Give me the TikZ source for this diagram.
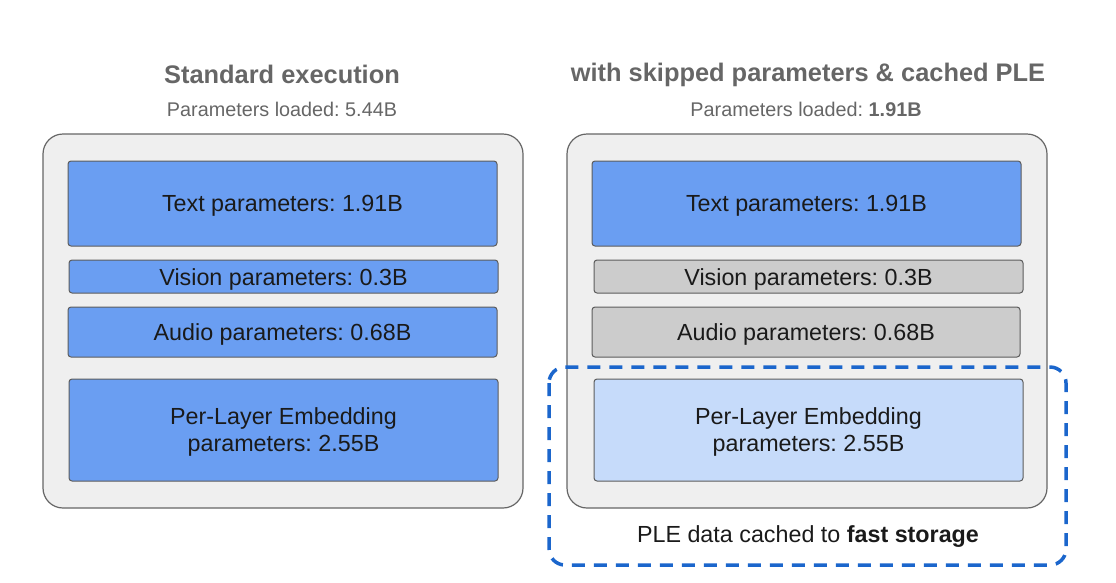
\documentclass[tikz,border=0pt]{standalone}
\usepackage{fontspec}
\setmainfont{Liberation Sans}
\frenchspacing
\definecolor{outerfill}{HTML}{EFEFEF}
\definecolor{outerline}{HTML}{666666}
\definecolor{bluefill}{HTML}{6A9EF2}
\definecolor{lightblue}{HTML}{C6DBFA}
\definecolor{grayfill}{HTML}{CCCCCC}
\definecolor{dashblue}{HTML}{1B66CC}
\definecolor{titlegray}{HTML}{666666}
\definecolor{textblack}{HTML}{1A1A1A}
\begin{document}
\begin{tikzpicture}[x=1pt,y=-1pt,
  outer/.style={draw=outerline,fill=outerfill,line width=1.2pt,rounded corners=20pt},
  blk/.style={draw=outerline!90!black,line width=1pt,rounded corners=3pt},
  lbl/.style={text=textblack,font=\fontsize{23.3}{26.5}\selectfont\frenchspacing,align=center},
  ttl/.style={text=titlegray,font=\fontsize{25.4}{30}\selectfont\bfseries},
  sub/.style={text=titlegray,font=\fontsize{19.8}{23}\selectfont\frenchspacing}]
\useasboundingbox (0,0) rectangle (1116,582);
% left column
\draw[outer] (43,134) rectangle (523,508);
\draw[blk,fill=bluefill] (68,161) rectangle (497,246);
\draw[blk,fill=bluefill] (69,260) rectangle (498,293);
\draw[blk,fill=bluefill] (68,307) rectangle (497,357);
\draw[blk,fill=bluefill] (69,379) rectangle (498,481);
\node[ttl] (t1) at (282,74) {Standard execution};
\node[sub] (s1) at (282,109) {Parameters loaded: 5.44B};
\node[lbl] (l1) at (282.5,206) {Text parameters: 1.91B};
\node[lbl] (l2) at (283.5,279) {Vision parameters: 0.3B};
\node[lbl] (l3) at (282.5,334) {Audio parameters: 0.68B};
\node[lbl] (l4) at (283.5,432) {Per-Layer Embedding\\parameters: 2.55B};
% right column
\draw[outer] (567,134) rectangle (1047,508);
\draw[blk,fill=bluefill] (592,161) rectangle (1021,246);
\draw[blk,fill=grayfill] (594,260) rectangle (1023,293);
\draw[blk,fill=grayfill] (592,307) rectangle (1020,357);
\draw[blk,fill=lightblue] (594,379) rectangle (1023,481);
\draw[dashblue,line width=3.5pt,dash pattern=on 13pt off 9pt,rounded corners=16pt] (549,367) rectangle (1066,565);
\node[ttl] (t2) at (808,75) {with skipped parameters \& cached PLE};
\node[sub] (s2) at (806,109) {Parameters loaded: \textbf{1.91B}};
\node[lbl] (r1) at (806.5,206) {Text parameters: 1.91B};
\node[lbl] (r2) at (808.5,279) {Vision parameters: 0.3B};
\node[lbl] (r3) at (806,334) {Audio parameters: 0.68B};
\node[lbl] (r4) at (808.5,432) {Per-Layer Embedding\\parameters: 2.55B};
\node[lbl] (cap) at (808,537) {PLE data cached to \textbf{fast storage}};
\end{tikzpicture}
\end{document}
